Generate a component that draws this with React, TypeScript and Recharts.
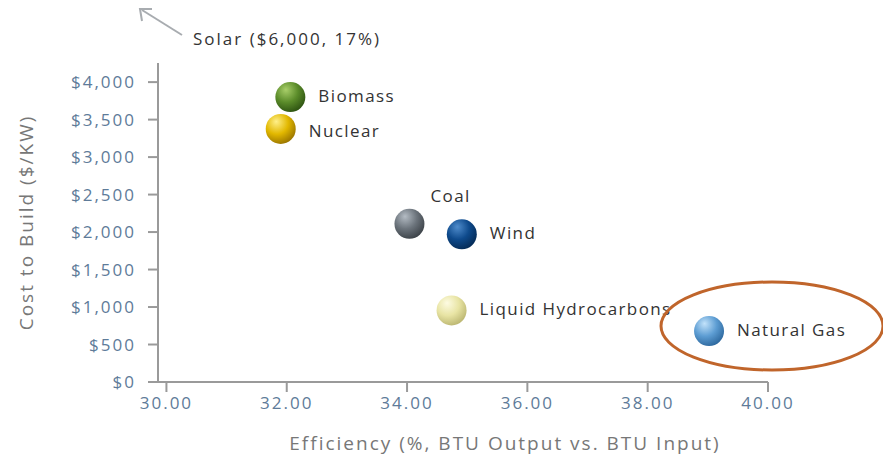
import React from "react";
import { ScatterChart, Scatter, XAxis, YAxis, Label } from "recharts";

const sources = ["Biomass", "Nuclear", "Coal", "Wind", "Liquid Hydrocarbons", "Natural Gas"];
const efficiency = [32.06, 31.9, 34.04, 34.91, 34.74, 39.02];
const costPerKw = [3800, 3375, 2110, 1970, 955, 680];
const xTicks = [30, 32, 34, 36, 38, 40];
const yTicks = [0, 500, 1000, 1500, 2000, 2500, 3000, 3500, 4000];

const data = sources.map((name, i) => ({ name, x: efficiency[i], y: costPerKw[i] }));

// highlight / base / shadow for each ball
const ballColors: Record<string, [string, string, string]> = {
  Biomass: ["#a9cf6a", "#5b8c2a", "#2f5512"],
  Nuclear: ["#fff08a", "#e2b800", "#9c7700"],
  Coal: ["#b4bcc4", "#6b737b", "#3e444a"],
  Wind: ["#4f8ccc", "#0e4a8c", "#052c58"],
  "Liquid Hydrocarbons": ["#fdfbe2", "#e8e4a4", "#bdb873"],
  "Natural Gas": ["#c2e2fa", "#5d9dd3", "#2f6aa0"],
};

const labelOffset: Record<string, [number, number]> = {
  Coal: [21, -28],
  Nuclear: [28, 2],
};

const font = "'Open Sans', 'DejaVu Sans', sans-serif";

const Ball = (props: any) => {
  const { cx, cy, payload, index } = props;
  const [hi, base, dark] = ballColors[payload.name];
  const id = `ball-${index}`;
  const [dx, dy] = labelOffset[payload.name] || [28, -2];
  return (
    <g>
      <defs>
        <radialGradient id={id} cx="38%" cy="32%" r="70%" fx="35%" fy="25%">
          <stop offset="0%" stopColor={hi} />
          <stop offset="55%" stopColor={base} />
          <stop offset="100%" stopColor={dark} />
        </radialGradient>
      </defs>
      <circle cx={cx} cy={cy} r={15} fill={`url(#${id})`} />
      <text
        x={cx + dx}
        y={cy + dy}
        dominantBaseline="central"
        fontFamily={font}
        fontSize={17}
        letterSpacing={1.4}
        fill="#333"
      >
        {payload.name}
      </text>
    </g>
  );
};

const tickStyle = { fill: "#5e7b99", fontSize: 17, fontFamily: font, letterSpacing: 2 };

export default function App() {
  return (
    <div style={{ position: "absolute", left: 0, top: 0, width: 883, height: 456, background: "#fff" }}>
      <ScatterChart width={883} height={456} margin={{ top: 63, right: 115, bottom: 0, left: 0 }}>
        <XAxis
          type="number"
          dataKey="x"
          domain={[29.86, 40]}
          ticks={xTicks}
          tickFormatter={(v: number) => v.toFixed(2)}
          height={74}
          tickSize={10}
          tickMargin={5}
          stroke="#9a9a9a"
          strokeWidth={2}
          tick={tickStyle}
        >
          <Label
            value="Efficiency (%, BTU Output vs. BTU Input)"
            position="insideBottom"
            offset={6}
            dx={42}
            fill="#777"
            fontSize={19}
            fontFamily={font}
            letterSpacing={2}
          />
        </XAxis>
        <YAxis
          type="number"
          dataKey="y"
          domain={[0, 4255]}
          ticks={yTicks}
          tickFormatter={(v: number) => `$${v.toLocaleString("en-US")}`}
          width={158}
          tickSize={10}
          tickMargin={12}
          stroke="#9a9a9a"
          strokeWidth={2}
          tick={tickStyle}
        >
          <Label
            value="Cost to Build ($/KW)"
            angle={-90}
            position="insideLeft"
            offset={26}
            fill="#777"
            fontSize={19}
            fontFamily={font}
            letterSpacing={2}
            style={{ textAnchor: "middle" }}
          />
        </YAxis>
        <Scatter data={data} shape={Ball} isAnimationActive={false} />
      </ScatterChart>
      <svg
        width={883}
        height={456}
        style={{ position: "absolute", left: 0, top: 0, pointerEvents: "none" }}
      >
        <line x1={182} y1={35} x2={142} y2={10} stroke="#a8acb0" strokeWidth={2} />
        <polyline points="142,21 140,9 152,9" fill="none" stroke="#a8acb0" strokeWidth={2} />
        <text
          x={193}
          y={38}
          dominantBaseline="central"
          fontFamily={font}
          fontSize={17}
          letterSpacing={2}
          fill="#333"
        >
          Solar ($6,000, 17%)
        </text>
        <ellipse cx={772} cy={326} rx={111} ry={44} fill="none" stroke="#c0652b" strokeWidth={3} />
      </svg>
    </div>
  );
}
